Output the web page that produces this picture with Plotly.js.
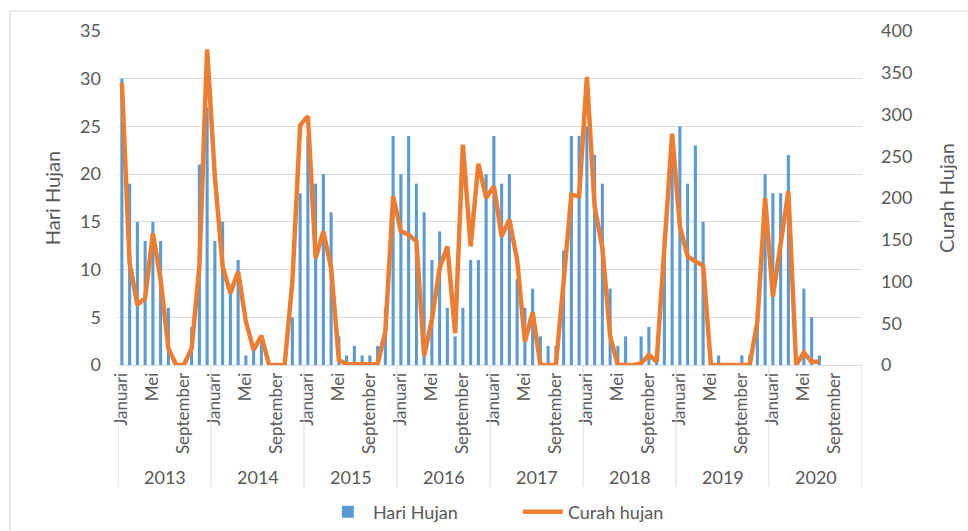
<!DOCTYPE html>
<html>
<head>
<meta charset="utf-8">
<script src="https://cdn.plot.ly/plotly-3.0.1.min.js"></script>
<style>
  html, body { margin: 0; padding: 0; background: #ffffff; }
  #chart { width: 968px; height: 531px; }
</style>
</head>
<body>
<div id="chart"></div>
<script>
// ---- Data ----
const years = ['2013', '2014', '2015', '2016', '2017', '2018', '2019', '2020'];
const monthNames = ['Januari', 'Februari', 'Maret', 'April', 'Mei', 'Juni', 'Juli', 'Agustus', 'September', 'Oktober', 'November', 'Desember'];
const labeledMonths = ['Januari', 'Mei', 'September'];

// Hari Hujan (days of rain) per month, Jan 2013 .. Dec 2020
const hariHujan2013 = [30, 19, 15, 13, 15, 13, 6, 0, 0, 4, 21, 27];
const hariHujan2014 = [13, 15, 8, 11, 1, 2, 3, 0, 0, 0, 5, 18];
const hariHujan2015 = [24, 19, 20, 16, 3, 1, 2, 1, 1, 2, 6, 24];
const hariHujan2016 = [20, 24, 19, 16, 11, 14, 6, 3, 6, 11, 11, 20];
const hariHujan2017 = [24, 19, 20, 9, 6, 8, 3, 2, 2, 12, 24, 24];
const hariHujan2018 = [25, 22, 19, 8, 2, 3, 0, 3, 4, 1, 14, 21];
const hariHujan2019 = [25, 19, 23, 15, 0, 1, 0, 0, 1, 1, 6, 20];
const hariHujan2020 = [18, 18, 22, 0, 8, 5, 1, null, null, null, null, null];

// Curah hujan (rainfall, mm) per month
const curahHujan2013 = [338, 122, 72, 80, 158, 102, 20, 0, 0, 20, 118, 378];
const curahHujan2014 = [225, 118, 86, 112, 52, 18, 35, 0, 0, 0, 100, 287];
const curahHujan2015 = [298, 128, 160, 116, 6, 1, 1, 1, 0, 1, 40, 202];
const curahHujan2016 = [160, 156, 148, 11, 54, 116, 142, 38, 264, 142, 241, 200];
const curahHujan2017 = [214, 154, 174, 126, 28, 63, 0, 0, 0, 100, 204, 202];
const curahHujan2018 = [345, 190, 140, 35, 0, 0, 0, 2, 12, 4, 140, 277];
const curahHujan2019 = [166, 130, 124, 119, 0, 0, 0, 0, 0, 0, 52, 200];
const curahHujan2020 = [82, 146, 208, 0, 15, 4, 4, null, null, null, null, null];

const hariHujan = [].concat(hariHujan2013, hariHujan2014, hariHujan2015, hariHujan2016,
  hariHujan2017, hariHujan2018, hariHujan2019, hariHujan2020);
const curahHujan = [].concat(curahHujan2013, curahHujan2014, curahHujan2015, curahHujan2016,
  curahHujan2017, curahHujan2018, curahHujan2019, curahHujan2020);

// ---- Build axes helpers ----
const idx = hariHujan.map((_, i) => i);
const tickvals = [];
const ticktext = [];
years.forEach((y, yi) => {
  monthNames.forEach((m, mi) => {
    if (labeledMonths.indexOf(m) >= 0) {
      tickvals.push(yi * 12 + mi);
      ticktext.push(m);
    }
  });
});

const textColor = '#595959';
const gridColor = '#D9D9D9';
const fontFamily = 'Lato, "Open Sans", sans-serif';

// plot area in px
const plotTop = 31, plotBottom = 365, plotLeft = 118, plotRight = 862;
const figW = 968, figH = 531;
const plotH = plotBottom - plotTop;
const plotW = plotRight - plotLeft;
const pyToPaper = (py) => (plotBottom - py) / plotH;
const pxToPaper = (px) => (px - plotLeft) / plotW;

const shapes = [];
const annotations = [];
// year separators and labels
for (let k = 0; k <= years.length; k++) {
  shapes.push({
    type: 'line', xref: 'x', yref: 'paper',
    x0: k * 12 - 0.5, x1: k * 12 - 0.5,
    y0: 0, y1: pyToPaper(487),
    line: { color: gridColor, width: 1 }
  });
}
years.forEach((y, yi) => {
  annotations.push({
    xref: 'x', yref: 'paper', x: yi * 12 + 5.5, y: pyToPaper(477),
    text: y, showarrow: false, xanchor: 'center', yanchor: 'middle',
    font: { family: fontFamily, size: 18, color: textColor }
  });
});
// chart area border
shapes.push({
  type: 'rect', xref: 'paper', yref: 'paper', layer: 'below',
  x0: pxToPaper(10), x1: pxToPaper(990),
  y0: pyToPaper(560), y1: pyToPaper(11),
  line: { color: gridColor, width: 1.2 }, fillcolor: 'rgba(0,0,0,0)'
});

const traces = [
  {
    type: 'bar', name: 'Hari Hujan', x: idx, y: hariHujan,
    marker: { color: '#5B9BD5' }, yaxis: 'y'
  },
  {
    type: 'scatter', mode: 'lines', name: 'Curah hujan', x: idx, y: curahHujan,
    line: { color: '#ED7D31', width: 4.5 }, yaxis: 'y2'
  }
];

const layout = {
  width: figW, height: figH,
  margin: { l: plotLeft, r: figW - plotRight, t: plotTop, b: figH - plotBottom, pad: 0, autoexpand: false },
  paper_bgcolor: '#ffffff', plot_bgcolor: '#ffffff',
  font: { family: fontFamily, color: textColor, size: 17 },
  bargap: 0.6,
  showlegend: true,
  legend: {
    orientation: 'h', xref: 'container', yref: 'container',
    x: 0.535, xanchor: 'center', y: (figH - 512) / figH, yanchor: 'middle',
    font: { family: fontFamily, size: 18, color: textColor },
    traceorder: 'normal', entrywidth: 140, itemwidth: 40
  },
  xaxis: {
    range: [-0.5, 95.5], tickmode: 'array', tickvals: tickvals, ticktext: ticktext,
    tickangle: -90, showgrid: false, zeroline: false, showline: true,
    linecolor: gridColor, linewidth: 1, ticks: '', automargin: false,
    tickfont: { family: fontFamily, size: 17, color: textColor }
  },
  yaxis: {
    range: [0, 35], dtick: 5, tick0: 0, showgrid: true, gridcolor: gridColor, gridwidth: 1,
    zeroline: false, showline: false, ticks: '', ticklabelstandoff: 16, automargin: false,
    tickfont: { family: fontFamily, size: 18, color: textColor },
    title: { text: 'Hari Hujan', font: { family: fontFamily, size: 20, color: textColor }, standoff: 14 }
  },
  yaxis2: {
    range: [0, 400], dtick: 50, tick0: 0, overlaying: 'y', side: 'right',
    showgrid: false, zeroline: false, showline: false, ticks: '', ticklabelstandoff: 18, automargin: false,
    tickfont: { family: fontFamily, size: 18, color: textColor },
    title: { text: 'Curah Hujan', font: { family: fontFamily, size: 20, color: textColor }, standoff: 28 }
  },
  shapes: shapes,
  annotations: annotations
};

Plotly.newPlot('chart', traces, layout, { displayModeBar: false, responsive: false });
</script>
</body>
</html>
